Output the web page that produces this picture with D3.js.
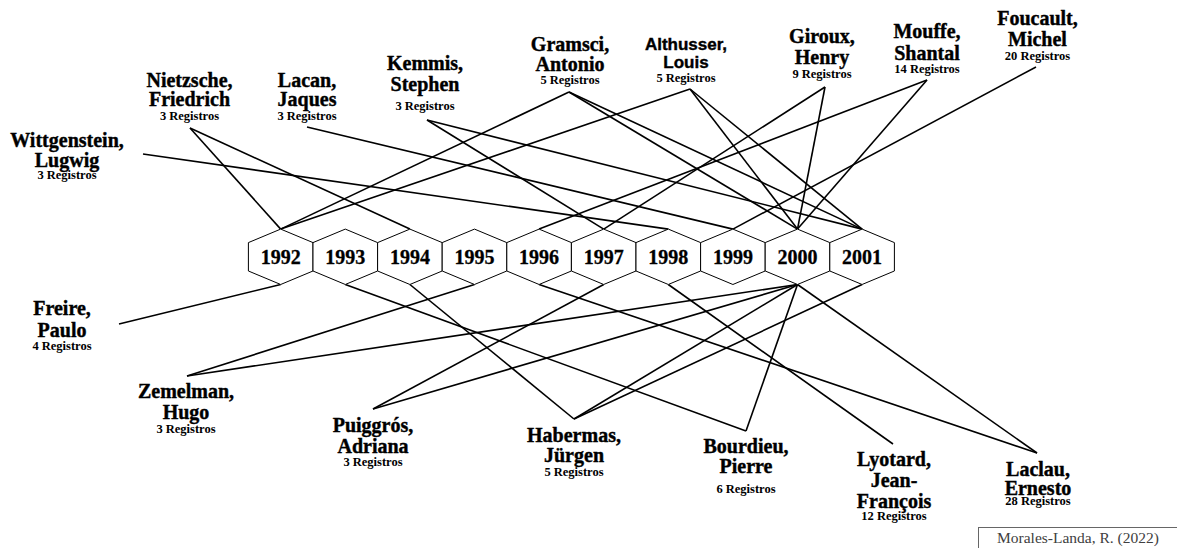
<!DOCTYPE html>
<html>
<head>
<meta charset="utf-8">
<script src="https://cdn.jsdelivr.net/npm/d3@7"></script>
<style>
  body { margin: 0; background: #fff; }
  svg { display: block; }
  .name { font-family: "Liberation Serif", "Times New Roman", serif; font-weight: bold; font-size: 20px; fill: #000; stroke: #000; stroke-width: 0.4px; }
  .name.sans { font-family: "Liberation Sans", Arial, sans-serif; font-size: 17px; }
  .reg { font-family: "Liberation Serif", "Times New Roman", serif; font-weight: bold; font-size: 12.5px; fill: #000; }
  .year { font-family: "Liberation Serif", "Times New Roman", serif; font-weight: bold; font-size: 20px; fill: #000; stroke: #000; stroke-width: 0.3px; }
  .credit { font-family: "Liberation Serif", "Times New Roman", serif; font-size: 15.5px; fill: #404040; }
</style>
</head>
<body>
<div id="chart"></div>
<script>
// data
var years = [1992, 1993, 1994, 1995, 1996, 1997, 1998, 1999, 2000, 2001];

var nameLines = [
  ["Wittgenstein,", "Lugwig"],
  ["Nietzsche,", "Friedrich"],
  ["Lacan,", "Jaques"],
  ["Kemmis,", "Stephen"],
  ["Gramsci,", "Antonio"],
  ["Althusser,", "Louis"],
  ["Giroux,", "Henry"],
  ["Mouffe,", "Shantal"],
  ["Foucault,", "Michel"],
  ["Freire,", "Paulo"],
  ["Zemelman,", "Hugo"],
  ["Puiggrós,", "Adriana"],
  ["Habermas,", "Jürgen"],
  ["Bourdieu,", "Pierre"],
  ["Lyotard,", "Jean-", "François"],
  ["Laclau,", "Ernesto"]
];
var registros = [3, 3, 3, 3, 5, 5, 9, 14, 20, 4, 3, 3, 5, 6, 12, 28];
var side = ["top", "top", "top", "top", "top", "top", "top", "top", "top",
            "bottom", "bottom", "bottom", "bottom", "bottom", "bottom", "bottom"];
var linkedYears = [
  [1998],
  [1992, 1994],
  [1999],
  [1997, 2001],
  [1992, 2000, 2001],
  [1992, 2000, 2001],
  [1997, 2000],
  [1996, 2000],
  [1999],
  [1992],
  [1995, 2000],
  [1997, 2000],
  [1994, 2000, 2001],
  [1993, 2000],
  [1998],
  [1996, 2000]
];
var credit = "Morales-Landa, R. (2022)";

// layout (label centre, first baseline, registros baseline, line anchor)
var labelX  = [67, 189.5, 307, 425, 570, 686, 822, 927, 1037.5, 62, 186, 373, 574, 746, 894, 1038];
var labelY  = [147, 87, 87, 70, 51, 50, 43, 38, 25, 315, 398, 432, 442, 453, 466, 476];
var lineGap = [20, 19, 19, 21, 20, 18, 21, 22, 21, 22, 21, 21, 20, 20, 21, 19];
var regY    = [179, 120, 120, 110, 84, 82, 78, 73, 60, 350, 433, 466, 476, 493, 520, 505];
var anchorX = [143, 190, 307, 427, 569, 690, 825, 927, 1036, 119, 187, 373, 574, 746, 893, 1037];
var anchorY = [154, 128, 127, 120, 92, 89, 87, 80, 67, 324, 376, 409, 419, 431, 444, 453];

var svgWidth = 1177, svgHeight = 548;
var hexY = 256.8, hexTip = 27.7, hexSide = 14.2, hexHalfW = 32.3;

var svg = d3.select("#chart")
  .append("svg")
  .attr("width", svgWidth)
  .attr("height", svgHeight);

var xYear = d3.scalePoint()
  .domain(years)
  .range([280.7, 862.1]);

// links author -> hexagon tip
var links = [];
linkedYears.forEach(function(ys, i) {
  ys.forEach(function(y) {
    links.push({ a: i, year: y });
  });
});

svg.append("g")
  .selectAll("line")
  .data(links)
  .enter()
  .append("line")
  .attr("x1", d => anchorX[d.a])
  .attr("y1", d => anchorY[d.a])
  .attr("x2", d => xYear(d.year))
  .attr("y2", d => side[d.a] == "top" ? hexY - hexTip : hexY + hexTip)
  .attr("stroke", "#000")
  .attr("stroke-width", 1.6);

// hexagons
var hexPts = [[0, -hexTip], [hexHalfW, -hexSide], [hexHalfW, hexSide], [0, hexTip], [-hexHalfW, hexSide], [-hexHalfW, -hexSide]];
var hexLine = d3.line().curve(d3.curveLinearClosed);

var hexG = svg.append("g")
  .selectAll("g")
  .data(years)
  .enter()
  .append("g")
  .attr("transform", d => `translate(${xYear(d)}, ${hexY})`);

hexG.append("path")
  .attr("d", hexLine(hexPts))
  .attr("fill", "#fff")
  .attr("stroke", "#000")
  .attr("stroke-width", 1);

hexG.append("text")
  .attr("class", "year")
  .attr("text-anchor", "middle")
  .attr("y", 7.5)
  .text(d => d);

// author labels
var labG = svg.append("g")
  .selectAll("g")
  .data(nameLines)
  .enter()
  .append("g");

labG.append("text")
  .attr("class", (d, i) => i == 5 ? "name sans" : "name")
  .attr("text-anchor", "middle")
  .selectAll("tspan")
  .data((d, i) => d.map((t, k) => ({ t: t, i: i, k: k })))
  .enter()
  .append("tspan")
  .attr("x", d => labelX[d.i])
  .attr("y", d => labelY[d.i] + d.k * lineGap[d.i])
  .text(d => d.t);

labG.append("text")
  .attr("class", "reg")
  .attr("text-anchor", "middle")
  .attr("x", (d, i) => labelX[i])
  .attr("y", (d, i) => regY[i])
  .text((d, i) => registros[i] + " Registros");

// credit box
svg.append("rect")
  .attr("x", 978.5)
  .attr("y", 527.5)
  .attr("width", 220)
  .attr("height", 40)
  .attr("fill", "none")
  .attr("stroke", "#666")
  .attr("stroke-width", 1);

svg.append("text")
  .attr("class", "credit")
  .attr("x", 997)
  .attr("y", 543)
  .text(credit);
</script>
</body>
</html>
